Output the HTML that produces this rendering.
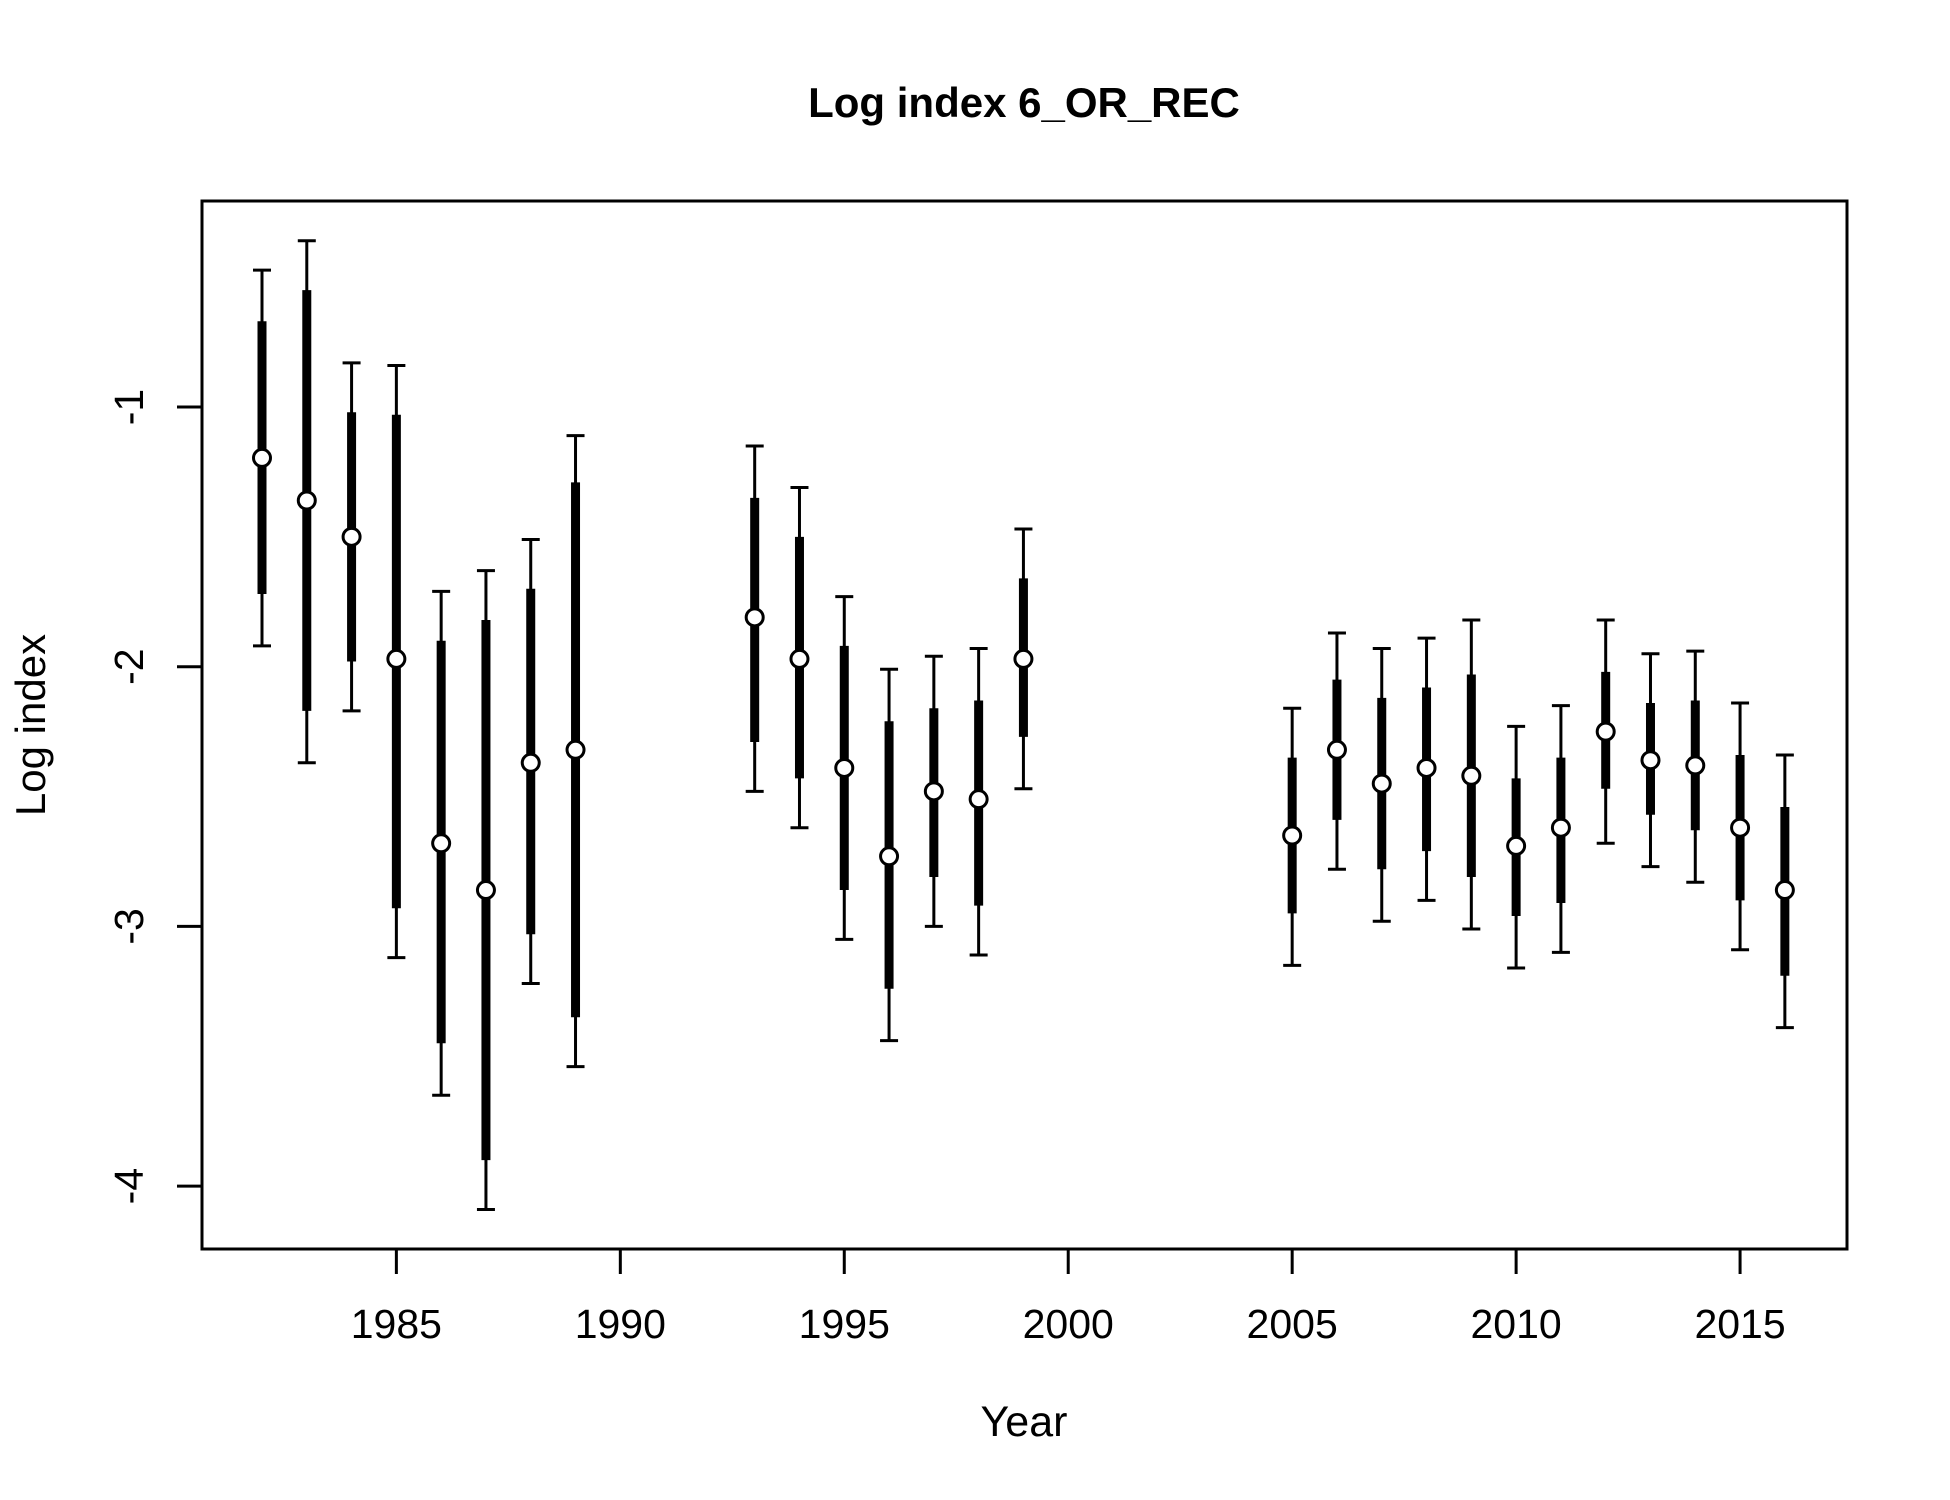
<!DOCTYPE html>
<html><head><meta charset="utf-8"><style>html,body{margin:0;padding:0;background:#fff}svg{display:block}text{font-family:"Liberation Sans",Arial,sans-serif}</style></head>
<body>
<svg id="chart" width="1950" height="1500" xmlns="http://www.w3.org/2000/svg">
<rect width="1950" height="1500" fill="#fff"/>
<text x="1024" y="117" font-size="42" font-weight="bold" text-anchor="middle">Log index 6_OR_REC</text>
<rect x="202" y="201" width="1645" height="1048" fill="none" stroke="#000" stroke-width="3"/>
<text x="1024" y="1436" font-size="43" text-anchor="middle">Year</text>
<text transform="translate(45,725) rotate(-90)" font-size="42" text-anchor="middle">Log index</text>
<g id="axes"></g>
<g id="marks"></g>
</svg>
<script>
const years=[1982,1983,1984,1985,1986,1987,1988,1989,1993,1994,1995,1996,1997,1998,1999,2005,2006,2007,2008,2009,2010,2011,2012,2013,2014,2015,2016];
const est=[-1.196,-1.36,-1.50,-1.97,-2.68,-2.86,-2.37,-2.32,-1.81,-1.97,-2.39,-2.73,-2.48,-2.51,-1.97,-2.65,-2.32,-2.45,-2.39,-2.42,-2.69,-2.62,-2.25,-2.36,-2.38,-2.62,-2.86];
const ciHi=[-0.473,-0.36,-0.83,-0.84,-1.71,-1.63,-1.51,-1.11,-1.15,-1.31,-1.73,-2.01,-1.96,-1.93,-1.47,-2.16,-1.87,-1.93,-1.89,-1.82,-2.23,-2.15,-1.82,-1.95,-1.94,-2.14,-2.34];
const ciLo=[-1.92,-2.37,-2.17,-3.12,-3.65,-4.09,-3.22,-3.54,-2.48,-2.62,-3.05,-3.44,-3.00,-3.11,-2.47,-3.15,-2.78,-2.98,-2.90,-3.01,-3.16,-3.10,-2.68,-2.77,-2.83,-3.09,-3.39];
const sdHi=[-0.67,-0.55,-1.02,-1.03,-1.90,-1.82,-1.70,-1.29,-1.35,-1.50,-1.92,-2.21,-2.16,-2.13,-1.66,-2.35,-2.05,-2.12,-2.08,-2.03,-2.43,-2.35,-2.02,-2.14,-2.13,-2.34,-2.54];
const sdLo=[-1.72,-2.17,-1.98,-2.93,-3.45,-3.90,-3.03,-3.35,-2.29,-2.43,-2.86,-3.24,-2.81,-2.92,-2.27,-2.95,-2.59,-2.78,-2.71,-2.81,-2.96,-2.91,-2.47,-2.57,-2.63,-2.90,-3.19];
const xTicks=[1985,1990,1995,2000,2005,2010,2015];
const yTicks=[-1,-2,-3,-4];
const yTickLabels=["-1","-2","-3","-4"];
const X=v=>262+(v-1982)*44.79;
const Y=v=>407+(-1-v)*259.7;
const NS="http://www.w3.org/2000/svg";
function mk(tag,attrs,parent){const e=document.createElementNS(NS,tag);for(const k in attrs)e.setAttribute(k,attrs[k]);parent.appendChild(e);return e;}
const axes=document.getElementById('axes'),marks=document.getElementById('marks');
xTicks.forEach(t=>{
  const l=mk('line',{x1:X(t),x2:X(t),y1:1249,y2:1274,stroke:'#000','stroke-width':3},axes);
  
  
  const tx=mk('text',{x:X(t),y:1338,'font-size':41,'text-anchor':'middle'},axes);
  tx.textContent=t;
  
  
});
yTicks.forEach((t,i)=>{
  const l=mk('line',{x1:177,x2:202,y1:Y(t),y2:Y(t),stroke:'#000','stroke-width':3},axes);
  
  
  const tx=mk('text',{transform:`translate(143,${Y(t)}) rotate(-90)`,'font-size':41,'text-anchor':'middle'},axes);
  tx.textContent=yTickLabels[i];
  
  
});
years.forEach((yr,i)=>{
  const x=X(yr);
  const g=mk('g',{},marks);
  
  
  mk('line',{x1:x,x2:x,y1:Y(ciHi[i]),y2:Y(ciLo[i]),stroke:'#000','stroke-width':3},g);
  mk('line',{x1:x-9,x2:x+9,y1:Y(ciHi[i]),y2:Y(ciHi[i]),stroke:'#000','stroke-width':3},g);
  mk('line',{x1:x-9,x2:x+9,y1:Y(ciLo[i]),y2:Y(ciLo[i]),stroke:'#000','stroke-width':3},g);
  mk('line',{x1:x,x2:x,y1:Y(sdHi[i]),y2:Y(sdLo[i]),stroke:'#000','stroke-width':9},g);
  const c=mk('circle',{cx:x,cy:Y(est[i]),r:8.5,fill:'#fff',stroke:'#000','stroke-width':3},g);
  
  
});
</script>
</body></html>
